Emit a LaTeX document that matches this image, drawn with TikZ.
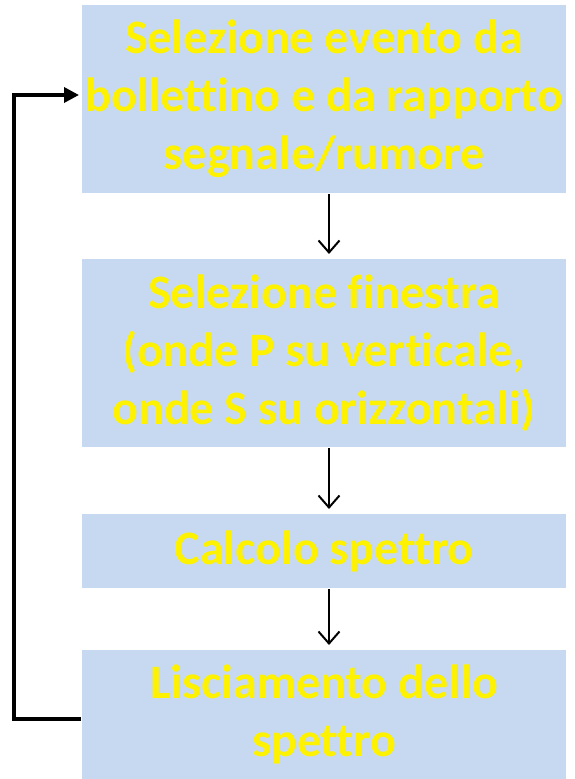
\documentclass[tikz,border=0pt]{standalone}
\usepackage{fontspec}
\setmainfont{Carlito}[Ligatures=NoCommon]
\usepackage{xcolor}
\usetikzlibrary{arrows.meta}

\definecolor{boxblue}{HTML}{C6D9F1}

\begin{document}
\begin{tikzpicture}[x=1pt,y=-1pt,line width=2pt,
  stepbox/.style={fill=boxblue,text=yellow,align=center,inner sep=0pt,
    minimum width=484pt,font=\fontsize{48}{58}\selectfont\bfseries},
  flow/.style={-{Straight Barb[length=12pt,width=21pt]},draw=black,shorten >=4pt}]

\useasboundingbox (0,0) rectangle (574,779);

% steps
\node[stepbox,minimum height=188pt] (StepA) at (324,99) {Selezione evento da\\bollettino e da rapporto\\segnale/rumore};
\node[stepbox,minimum height=188pt] (StepB) at (324,353) {Selezione finestra\\(onde P su verticale,\\onde S su orizzontali)};
\node[stepbox,minimum height=74pt] (StepC) at (324,551) {Calcolo spettro};
\node[stepbox,minimum height=129pt] (StepD) at (324,714.5) {Lisciamento dello\\spettro};

% arrows
\draw[flow] ([xshift=5pt]StepA.south) to ([xshift=5pt]StepB.north);
\draw[flow] ([xshift=5pt]StepB.south) to ([xshift=5pt]StepC.north);
\draw[flow] ([xshift=5pt]StepC.south) to ([xshift=5pt]StepD.north);

% loop back
\coordinate (LoopBottom) at (14,719);
\draw[line width=3.5pt,-{Triangle[length=15pt,width=15pt]},shorten >=2pt]
  (StepD.west |- LoopBottom) -- (LoopBottom) |- ([yshift=4pt]StepA.west);

\end{tikzpicture}
\end{document}
